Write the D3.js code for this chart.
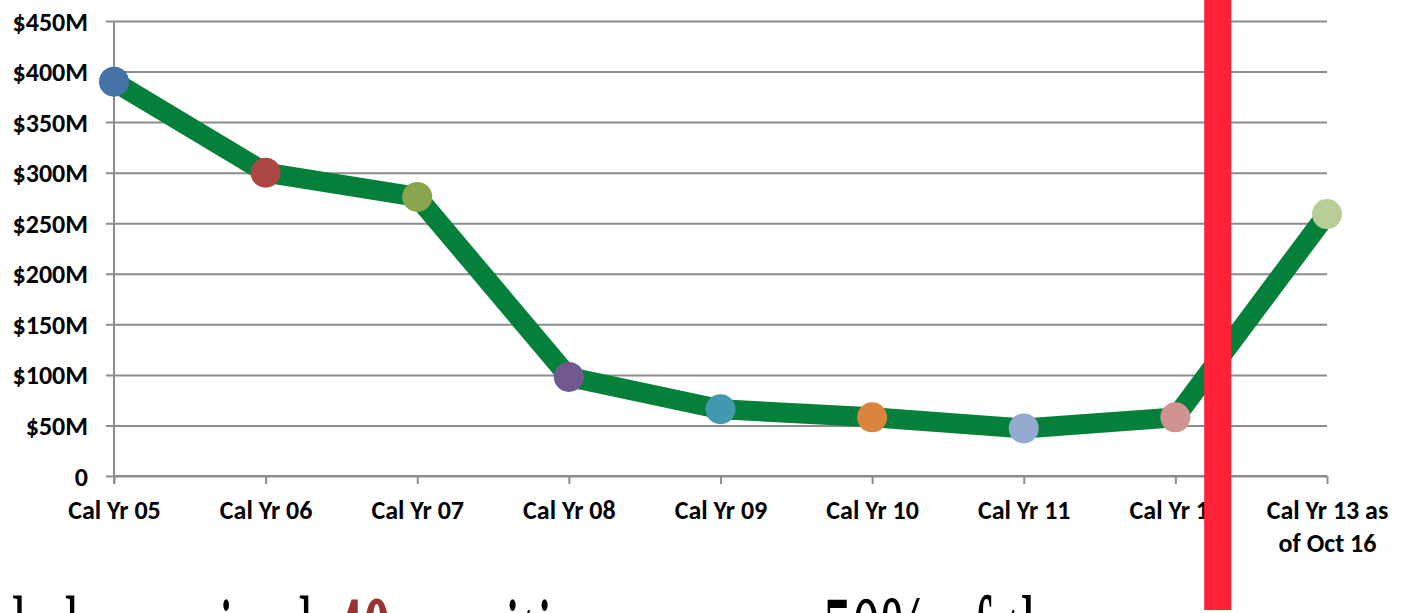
<!DOCTYPE html>
<html>
<head>
<meta charset="utf-8">
<script src="https://cdn.jsdelivr.net/npm/d3@7"></script>
<style>
  html, body { margin: 0; padding: 0; background: #ffffff; overflow: hidden; }
  svg { display: block; }
</style>
</head>
<body>
<svg id="chart" width="1402" height="613"></svg>
<script>
// ---- data ----
const categories = ["Cal Yr 05", "Cal Yr 06", "Cal Yr 07", "Cal Yr 08", "Cal Yr 09", "Cal Yr 10", "Cal Yr 11", "Cal Yr 12", "Cal Yr 13 as|of Oct 16"];
const values = [390, 300, 276, 98, 66, 58, 47, 58, 259]; // $M
const markerColors = ["#4572A7", "#AA4643", "#89A54E", "#71588F", "#4198AF", "#DB843D", "#93A9CF", "#D19392", "#B9CD96"];
const yTicks = [0, 50, 100, 150, 200, 250, 300, 350, 400, 450];
const markerCategory = "Cal Yr 12";       // the red bar sits just after this point
// cut-off slide text beneath the chart (only the tops of the glyphs show)
const bottomTextParts = [
  { text: "led we gained", color: "#000000", bold: false, at: 12, len: 300 },
  { text: "40", color: "#993333", bold: true, at: 334, len: 57 },
  { text: "positions, over", color: "#000000", bold: false, at: 425, len: 339 },
  { text: "50% of the", color: "#000000", bold: false, at: 823, len: 253 }
];

(function () {
  const svg = d3.select("#chart");
  const mLeft = 114, mRight = 1327, mTop = 21, mBottom = 476;

  const x = d3.scalePoint().domain(categories).range([mLeft, mRight]).padding(0);
  const y = d3.scaleLinear().domain([0, 450]).range([mBottom, mTop]);

  const fmt = v => v === 0 ? "0" : "$" + v + "M";
  const labelFont = "Carlito, Calibri, Lato, sans-serif";

  // gridlines + y axis
  const yAxis = d3.axisLeft(y).tickValues(yTicks).tickSize(8).tickFormat(fmt);
  const gy = svg.append("g").attr("transform", `translate(${mLeft},0)`).call(yAxis);
  gy.select(".domain").attr("stroke", "#8c8c8c").attr("stroke-width", 2).attr("d", `M0,${mTop}V${mBottom + 8}`);
  gy.selectAll(".tick line").attr("stroke", "#8c8c8c").attr("stroke-width", 2)
    .attr("x1", -8).attr("x2", mRight - mLeft);
  gy.selectAll(".tick text")
    .attr("x", -26).attr("dy", "0.35em")
    .attr("fill", "#000").style("font-family", labelFont)
    .style("font-weight", "bold").style("font-size", "26px");

  // x axis
  const xAxis = d3.axisBottom(x).tickSize(8).tickFormat("");
  const gx = svg.append("g").attr("transform", `translate(0,${mBottom})`).call(xAxis);
  gx.select(".domain").attr("stroke", "#8c8c8c").attr("stroke-width", 2).attr("d", `M${mLeft},0H${mRight}`);
  gx.selectAll(".tick line").attr("stroke", "#8c8c8c").attr("stroke-width", 2);
  gx.selectAll(".tick").each(function (d) {
    const lines = d.split("|");
    const t = d3.select(this).append("text")
      .attr("fill", "#000").attr("text-anchor", "middle")
      .style("font-family", labelFont)
      .style("font-weight", "bold").style("font-size", "26px");
    lines.forEach((ln, i) => {
      t.append("tspan").attr("x", 0).attr("y", 43 + i * 33).text(ln);
    });
  });

  // line
  const line = d3.line().x((d, i) => x(categories[i])).y(d => y(d));
  svg.append("path").datum(values)
    .attr("d", line)
    .attr("fill", "none").attr("stroke", "#05803A").attr("stroke-width", 20)
    .attr("stroke-linejoin", "round");

  // markers
  svg.append("g").selectAll("circle").data(values).join("circle")
    .attr("cx", (d, i) => x(categories[i]))
    .attr("cy", d => y(d))
    .attr("r", 15)
    .attr("fill", (d, i) => markerColors[i]);

  // red vertical bar
  const step = x.step();
  const barX = x(markerCategory) + step * 0.19;
  svg.append("rect")
    .attr("x", barX).attr("y", 0)
    .attr("width", 27).attr("height", 610)
    .attr("fill", "#FF2137");

  // bottom (cut-off) text
  bottomTextParts.forEach(p => {
    svg.append("text")
      .attr("x", p.at).attr("y", 672)
      .attr("fill", p.color)
      .attr("textLength", p.len)
      .attr("lengthAdjust", "spacingAndGlyphs")
      .style("font-family", "'Liberation Serif', 'DejaVu Serif', serif")
      .style("font-size", "110px")
      .style("font-weight", p.bold ? "bold" : "normal")
      .text(p.text);
  });
})();
</script>
</body>
</html>
